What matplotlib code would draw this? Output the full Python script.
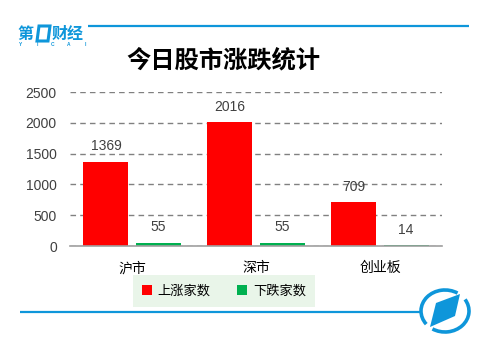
import numpy as np
from matplotlib import pyplot as plt
from matplotlib.patches import Polygon, Arc

plt.rcParams['font.family'] = ['Liberation Sans', 'Noto Sans CJK SC', 'DejaVu Sans']

markets = ['沪市', '深市', '创业板']
up_counts = [1369, 2016, 709]
down_counts = [55, 55, 14]
series_names = ['上涨家数', '下跌家数']
y_ticks = [0, 500, 1000, 1500, 2000, 2500]

RED = '#FF0000'
GREEN = '#00B050'
BLUE = '#0E96DA'
CJK = ['Noto Sans CJK SC', 'DejaVu Sans']

fig = plt.figure(figsize=(4.96, 3.49), dpi=100)

# decoration layer in pixel coordinates
deco = fig.add_axes([0, 0, 1, 1])
deco.set_xlim(0, 496)
deco.set_ylim(349, 0)
deco.axis('off')

# header: logo + rule
deco.plot([88, 469], [25.7, 25.7], color=BLUE, lw=1.6, solid_capstyle='butt')
deco.text(17, 34, '第', color=BLUE, fontsize=11.5, fontweight='bold',
          family=CJK, va='center', ha='left')
deco.add_patch(Polygon([(39, 26), (50, 26), (48, 41), (37, 41)], closed=True,
                       facecolor='none', edgecolor=BLUE, lw=2.2))
deco.text(52, 34, '财经', color=BLUE, fontsize=11.5, fontweight='bold',
          family=CJK, va='center', ha='left')
for i, ch in enumerate('YICAI'):
    deco.text(21 + i * 16, 44.5, ch, color=BLUE, fontsize=3.5,
              fontweight='bold', ha='center', va='center')

# footer: rule + round badge
deco.plot([20, 420], [311.7, 311.7], color=BLUE, lw=1.6, solid_capstyle='butt')
for t1, t2 in [(330, 125), (145, 305)]:
    deco.add_patch(Arc((445, 311), 48, 42, theta1=t1, theta2=t2,
                       color=BLUE, lw=2.6))
deco.add_patch(Polygon([(460, 294), (455, 316), (430, 327), (436, 303)],
                       closed=True, facecolor=BLUE, edgecolor='none'))

deco.text(223, 60, '今日股市涨跌统计', fontsize=17.5, fontweight='bold',
          family=CJK, ha='center', va='center', color='black')

# main chart
ax = fig.add_axes([70 / 496, 1 - 246 / 349, 372 / 496, 154 / 349])
ax.set_facecolor('none')

x = np.arange(len(markets))
w = 0.363
off = 0.21
b1 = ax.bar(x - off, up_counts, w, color=RED, zorder=3, label=series_names[0])
b2 = ax.bar(x + off, down_counts, w, color=GREEN, zorder=3, label=series_names[1])

for bars, vals in [(b1, up_counts), (b2, down_counts)]:
    for rect, v in zip(bars, vals):
        ax.annotate(str(v), (rect.get_x() + rect.get_width() / 2, v),
                    xytext=(0, 11), textcoords='offset points',
                    ha='center', va='center', fontsize=10, color='#404040')

ax.set_xlim(-0.5, 2.5)
ax.set_ylim(0, 2500)
ax.set_yticks(y_ticks)
ax.set_xticks(x)
ax.set_xticklabels(markets, family=CJK, fontsize=10)
ax.tick_params(axis='y', length=0, pad=9.5, labelsize=10, labelcolor='#404040')
ax.tick_params(axis='x', length=0, pad=11)
ax.yaxis.grid(True, color='#808080', linestyle=(0, (4, 3)), lw=1)
for s in ['top', 'left', 'right']:
    ax.spines[s].set_visible(False)
ax.spines['bottom'].set_color('#A0A0A0')
ax.spines['bottom'].set_linewidth(1.2)
ax.spines['bottom'].set_zorder(4)

leg = fig.legend(loc='center', bbox_to_anchor=(224 / 496, 1 - 291 / 349),
                 ncol=2, frameon=True, fancybox=False,
                 prop={'family': CJK, 'size': 9.5},
                 handlelength=0.75, handleheight=0.75, handletextpad=0.45,
                 columnspacing=2.0, borderpad=0.7, borderaxespad=0)
leg.get_frame().set_facecolor('#E9F5E9')
leg.get_frame().set_edgecolor('none')
leg.get_frame().set_alpha(1)

fig.savefig('out.png', dpi=100)
